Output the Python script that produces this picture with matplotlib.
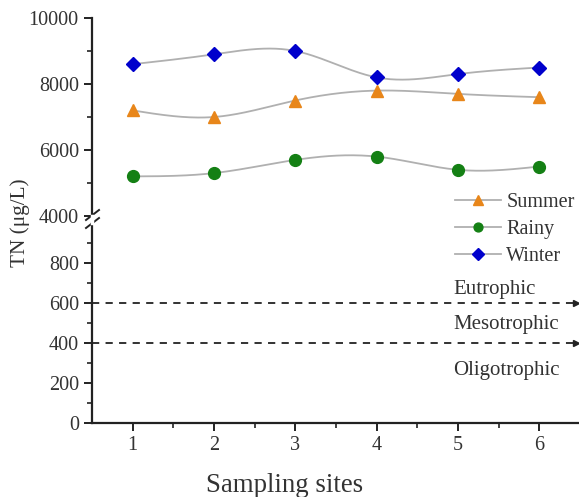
import numpy as np
import matplotlib
matplotlib.use("Agg")
import matplotlib.pyplot as plt

sites = [1, 2, 3, 4, 5, 6]
summer = [7200, 7000, 7500, 7800, 7700, 7600]
rainy = [5200, 5300, 5700, 5800, 5400, 5500]
winter = [8600, 8900, 9000, 8200, 8300, 8500]
series_names = ["Summer", "Rainy", "Winter"]
thresholds = [600, 400]
zone_labels = ["Eutrophic", "Mesotrophic", "Oligotrophic"]
zone_label_y = [665, 492, 262]

plt.rcParams['font.family'] = ['Liberation Serif', 'DejaVu Serif']
TXT = '#333333'
W, H = 579, 497
fig = plt.figure(figsize=(W / 100, H / 100), dpi=100)


def fr(x0, y0, x1, y1):
    return [x0 / W, 1 - y1 / H, (x1 - x0) / W, (y1 - y0) / H]


ax_top = fig.add_axes(fr(92, 18, 580, 216))
ax_bot = fig.add_axes(fr(92, 223, 580, 423))


def smooth(x, y, n=200):
    # natural cubic spline for the connecting curve
    x = np.asarray(x, float); y = np.asarray(y, float)
    k = len(x); h = np.diff(x)
    A = np.zeros((k, k)); b = np.zeros(k)
    A[0, 0] = A[-1, -1] = 1
    for i in range(1, k - 1):
        A[i, i - 1] = h[i - 1]; A[i, i] = 2 * (h[i - 1] + h[i]); A[i, i + 1] = h[i]
        b[i] = 3 * ((y[i + 1] - y[i]) / h[i] - (y[i] - y[i - 1]) / h[i - 1])
    c = np.linalg.solve(A, b)
    xs = np.linspace(x[0], x[-1], n); ys = np.empty_like(xs)
    for j, xv in enumerate(xs):
        i = min(np.searchsorted(x, xv, side='right') - 1, k - 2)
        bi = (y[i + 1] - y[i]) / h[i] - h[i] * (2 * c[i] + c[i + 1]) / 3
        di = (c[i + 1] - c[i]) / (3 * h[i])
        t = xv - x[i]
        ys[j] = y[i] + bi * t + c[i] * t ** 2 + di * t ** 3
    return xs, ys


styles = [dict(marker='^', color='#E8861A', ms=9),
          dict(marker='o', color='#148014', ms=8.5),
          dict(marker='D', color='#0000CC', ms=7.5)]
handles = []
for vals, st, name in zip([summer, rainy, winter], styles, series_names):
    xs, ys = smooth(sites, vals)
    ax_top.plot(xs, ys, color='#b0b0b0', lw=1.3, zorder=2)
    ax_top.plot(sites, vals, ls='none', marker=st['marker'], ms=st['ms'],
                mfc=st['color'], mec=st['color'], zorder=3)
    h, = plt.plot([], [], color='#b0b0b0', lw=1.3, marker=st['marker'],
                  ms=st['ms'], mfc=st['color'], mec=st['color'], label=name)
    handles.append(h)

for ax in (ax_top, ax_bot):
    ax.set_xlim(0.5, 6.5)
    for s in ['top', 'right']:
        ax.spines[s].set_visible(False)
    ax.spines['left'].set_linewidth(1.6)
    ax.spines['left'].set_color('#222222')
    ax.tick_params(axis='both', which='major', direction='out', length=6, width=1.4,
                   colors='#222222', labelcolor=TXT, labelsize=14.5)
    ax.tick_params(axis='both', which='minor', direction='out', length=3.5, width=1.2,
                   colors='#222222')

ax_top.spines['bottom'].set_visible(False)
ax_top.tick_params(axis='x', which='both', bottom=False, labelbottom=False)
ax_top.set_ylim(4000, 10000)
ax_top.set_yticks([4000, 6000, 8000, 10000])
ax_top.set_yticks([5000, 7000, 9000], minor=True)
ax_top.patch.set_alpha(0)

ax_bot.spines['bottom'].set_linewidth(1.6)
ax_bot.spines['bottom'].set_color('#222222')
ax_bot.set_ylim(0, 1000)
ax_bot.set_yticks([0, 200, 400, 600, 800])
ax_bot.set_yticks([100, 300, 500, 700, 900], minor=True)
ax_bot.set_xticks(sites)
ax_bot.set_xticks([1.5, 2.5, 3.5, 4.5, 5.5], minor=True)
ax_bot.patch.set_alpha(0)

for t in thresholds:
    ax_bot.plot([0.5, 6.45], [t, t], ls=(0, (4, 3.5)), color='#222222', lw=1.3, clip_on=False)
    ax_bot.plot([6.45], [t], marker='>', ms=5, color='#222222', clip_on=False)
for lab, yv in zip(zone_labels, zone_label_y):
    ax_bot.text(4.94, yv, lab, ha='left', va='center', fontsize=15, color=TXT)

# axis break marks
for dy in (-4, 4):
    fig.add_artist(plt.Line2D([(86) / W, (99) / W], [1 - (219 + dy + 5) / H, 1 - (219 + dy - 5) / H],
                              color='#222222', lw=1.4))
fig.add_artist(plt.Line2D([92 / W, 92 / W], [1 - 216 / H, 1 - 223 / H], color='white', lw=2.5))

fig.text(20 / W, 1 - 223 / H, 'TN (μg/L)', rotation=90, ha='center', va='center',
         fontsize=15.3, color=TXT)
fig.text(285 / W, 1 - 485 / H, 'Sampling sites', ha='center', va='center',
         fontsize=19.4, color=TXT)

fig.legend(handles=handles, loc='upper left', bbox_to_anchor=(455 / W, 1 - 193 / H),
           frameon=False, fontsize=14.5, handlelength=2.3, handletextpad=0.25,
           labelspacing=0.4, borderpad=0, borderaxespad=0, labelcolor=TXT, markerscale=0.75)

fig.savefig('out.png', dpi=100)
